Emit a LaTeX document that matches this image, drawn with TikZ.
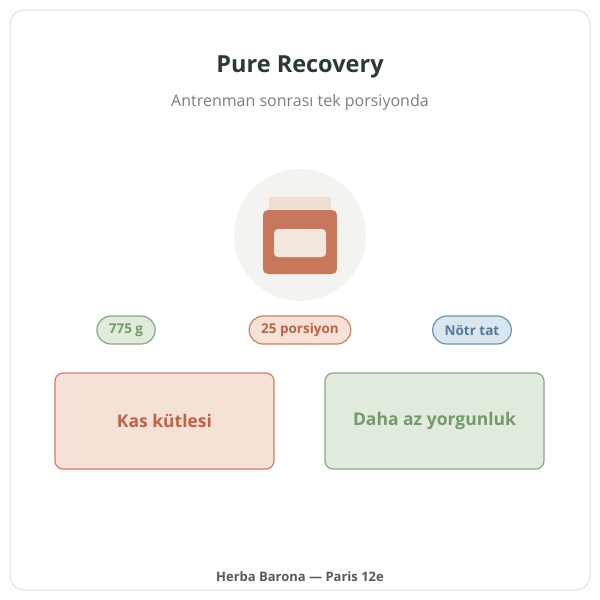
\documentclass[tikz,border=0pt]{standalone}
\usepackage{fontspec}
\setmainfont{Open Sans}
\definecolor{ink}{HTML}{2D3A33}
\definecolor{sub}{HTML}{7A7F7C}
\definecolor{tfill}{HTML}{F6E1D8}\definecolor{tline}{HTML}{D0805F}\definecolor{ttext}{HTML}{BF6240}
\definecolor{gfill}{HTML}{E0EBDD}\definecolor{gline}{HTML}{88A882}\definecolor{gtext}{HTML}{739A6C}
\definecolor{bfill}{HTML}{D9E6EF}\definecolor{bline}{HTML}{6F95B0}\definecolor{btext}{HTML}{56799A}
\definecolor{disc}{HTML}{F3F3EF}\definecolor{lid}{HTML}{EEDFD2}\definecolor{jar}{HTML}{C8775A}\definecolor{lab}{HTML}{F3E8DF}
\tikzset{
 pill/.style={draw=#1line,fill=#1fill,text=#1text,line width=1.2pt,rounded corners=14pt,minimum height=28pt,font=\fontsize{13.5}{15}\selectfont\bfseries,inner xsep=12pt},
 card/.style={draw=#1line,fill=#1fill,text=#1text,line width=1.2pt,rounded corners=8pt,minimum width=219pt,minimum height=96pt,font=\fontsize{17.5}{20}\selectfont\bfseries}
}
\begin{document}
\begin{tikzpicture}[x=1pt,y=-1pt]
\useasboundingbox[fill=white] (0,0) rectangle (600,600);
\draw[draw=black!12,fill=white,line width=1pt,rounded corners=14pt] (10,10) rectangle (590,590);
\node[text=ink,font=\fontsize{23.5}{28}\selectfont\bfseries] (title) at (300,67) {Pure Recovery};
\node[text=sub,font=\fontsize{16}{19}\selectfont] (sub) at (300,102) {Antrenman sonrası tek porsiyonda};
\fill[disc] (300,235) circle (66);
\fill[lid] (269,197) rectangle (331,214);
\fill[jar,rounded corners=5pt] (263,210) rectangle (337,274);
\fill[lab,rounded corners=4pt] (274,229) rectangle (326,257);
\node[pill=g] (p1) at (126,330) {775 g};
\node[pill=t] (p2) at (300,330) {25 porsiyon};
\node[pill=b] (p3) at (472,330) {Nötr tat};
\node[card=t] (c1) at (164.5,421) {Kas kütlesi};
\node[card=g] (c2) at (434.5,421) {Daha az yorgunluk};
\node[text=black!65,font=\fontsize{13}{15}\selectfont\bfseries] (foot) at (300,577) {Herba Barona — Paris 12e};
\end{tikzpicture}
\end{document}
